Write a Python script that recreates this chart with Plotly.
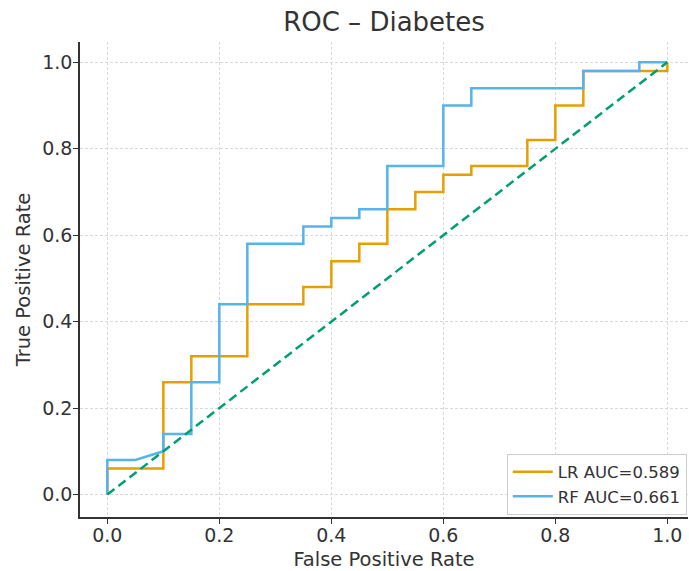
import plotly.graph_objects as go

# ROC data
lr_fpr = [0, 0, 0.1, 0.1, 0.15, 0.15, 0.25, 0.25, 0.35, 0.35, 0.4, 0.4, 0.45, 0.45,
          0.5, 0.5, 0.55, 0.55, 0.6, 0.6, 0.65, 0.65, 0.75, 0.75, 0.8, 0.8, 0.85, 0.85, 1.0, 1.0]
lr_tpr = [0, 0.06, 0.06, 0.26, 0.26, 0.32, 0.32, 0.44, 0.44, 0.48, 0.48, 0.54, 0.54, 0.58,
          0.58, 0.66, 0.66, 0.70, 0.70, 0.74, 0.74, 0.76, 0.76, 0.82, 0.82, 0.90, 0.90, 0.98, 0.98, 1.0]

rf_fpr = [0, 0, 0.05, 0.1, 0.1, 0.15, 0.15, 0.2, 0.2, 0.25, 0.25, 0.35, 0.35, 0.4,
          0.4, 0.45, 0.45, 0.5, 0.5, 0.6, 0.6, 0.65, 0.65, 0.85, 0.85, 0.95, 0.95, 1.0]
rf_tpr = [0, 0.08, 0.08, 0.10, 0.14, 0.14, 0.26, 0.26, 0.44, 0.44, 0.58, 0.58, 0.62, 0.62,
          0.64, 0.64, 0.66, 0.66, 0.76, 0.76, 0.90, 0.90, 0.94, 0.94, 0.98, 0.98, 1.0, 1.0]

diag_x = [0, 1]
diag_y = [0, 1]

lr_label = "LR AUC=0.589"
rf_label = "RF AUC=0.661"
title_text = "ROC – Diabetes"
x_title = "False Positive Rate"
y_title = "True Positive Rate"
tick_vals = [0.0, 0.2, 0.4, 0.6, 0.8, 1.0]
tick_text = ["0.0", "0.2", "0.4", "0.6", "0.8", "1.0"]

FONT = "DejaVu Sans"
TXT = "#333333"

fig = go.Figure()
fig.add_trace(go.Scatter(x=lr_fpr, y=lr_tpr, mode="lines", name=lr_label,
                         line=dict(color="#E69F00", width=2.5)))
fig.add_trace(go.Scatter(x=rf_fpr, y=rf_tpr, mode="lines", name=rf_label,
                         line=dict(color="#56B4E9", width=2.5)))
fig.add_trace(go.Scatter(x=diag_x, y=diag_y, mode="lines", showlegend=False,
                         line=dict(color="#009E73", width=2.5, dash="9px,5px")))

axis_common = dict(
    showline=True, linecolor="#333333", linewidth=1.5, mirror=False,
    ticks="outside", ticklen=5, tickwidth=1.3, tickcolor="#333333",
    showgrid=True, gridcolor="#d9d9d9", gridwidth=1, griddash="3px,2px",
    zeroline=False,
    tickfont=dict(family=FONT, size=19, color=TXT),
    tickvals=tick_vals, ticktext=tick_text,
)

fig.update_xaxes(range=[-0.0488, 1.0369], ticklabelstandoff=-5,
                 title=dict(text=x_title, font=dict(family=FONT, size=19.5, color=TXT), standoff=11),
                 **axis_common)
fig.update_yaxes(range=[-0.052, 1.047], ticklabelstandoff=-3,
                 title=dict(text=y_title, font=dict(family=FONT, size=19.5, color=TXT), standoff=6),
                 **axis_common)

fig.update_layout(
    width=689, height=571,
    margin=dict(l=80, r=1, t=42, b=51),
    paper_bgcolor="white", plot_bgcolor="white",
    title=dict(text=title_text, x=0.5, xanchor="center", xref="paper",
               y=1 - 22 / 571, yanchor="middle", yref="container",
               font=dict(family=FONT, size=26, color=TXT)),
    legend=dict(x=0.998, y=0.005, xanchor="right", yanchor="bottom",
                bgcolor="rgba(255,255,255,0.85)", bordercolor="#cccccc", borderwidth=1,
                font=dict(family=FONT, size=16.5, color=TXT),
                tracegroupgap=0, itemwidth=40),
    font=dict(family=FONT, color=TXT),
)

fig.write_html("out.html")
